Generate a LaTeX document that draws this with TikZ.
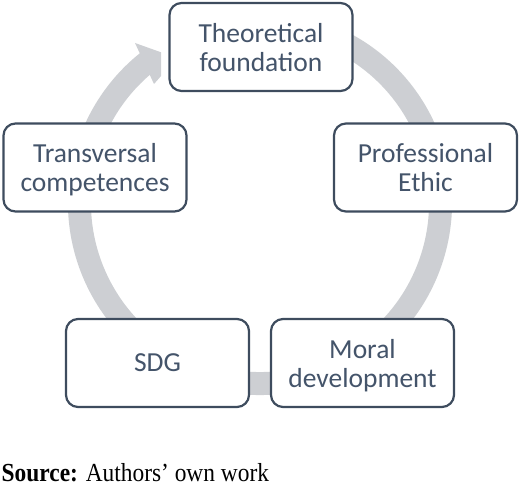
\documentclass[tikz,border=0pt]{standalone}
\usepackage{fontspec}
\setmainfont{Carlito}
\newfontfamily\capfont{Liberation Serif}
\usetikzlibrary{calc}
\definecolor{ringgray}{HTML}{CDCFD3}
\definecolor{boxline}{HTML}{3E4C5E}
\definecolor{boxtext}{HTML}{44546A}
\begin{document}
\begin{tikzpicture}[x=1pt,y=-1pt,
  box/.style={draw=boxline, line width=2.2pt, fill=white, rounded corners=12pt,
    minimum width=183pt, minimum height=88pt, align=center, text=boxtext,
    font=\fontsize{27.5}{29}\selectfont, inner sep=0pt, text depth=0pt},
  ring/.style={draw=ringgray, line width=23pt},
  arrowfill/.style={fill=ringgray}]
\useasboundingbox (0,0) rectangle (520,489);
\coordinate (c) at (260,203);
\draw[ring] ($(c)+(-70:180.5)$) arc[start angle=-70,end angle=232,radius=180.5];
\begin{scope}
  \clip (0,0) rectangle (161,489);
  \fill[arrowfill] (135,43) -- (177,58) -- (154,84) -- cycle;
\end{scope}
\node[box] (theo) at (261,47) {Theoretical\\foundation};
\node[box] (trans) at (95,167.5) {Transversal\\competences};
\node[box] (prof) at (425.5,167.5) {Professional\\Ethic};
\node[box] (sdg) at (157.5,363) {SDG};
\node[box] (moral) at (362.5,363) {Moral\\development};
\node[anchor=base west, inner sep=0pt, font=\capfont\fontsize{26}{30}\selectfont] (src) at (1.5,481)
  {\scalebox{0.9}[1]{\textbf{Source:} Authors’ own work}};
\end{tikzpicture}
\end{document}
